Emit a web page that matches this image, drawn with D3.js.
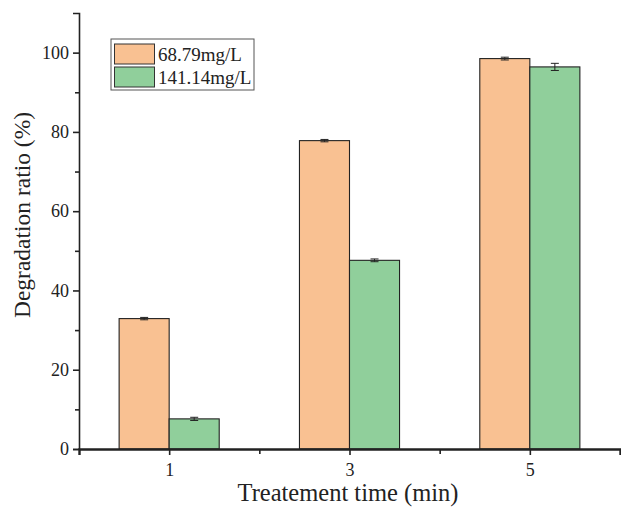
<!DOCTYPE html>
<html>
<head>
<meta charset="utf-8">
<script src="https://cdn.jsdelivr.net/npm/d3@7"></script>
<style>
  body { margin: 0; background: #fff; }
  text { font-family: "Liberation Serif", "Times New Roman", serif; fill: #222; }
</style>
</head>
<body>
<svg id="chart" width="621" height="508"></svg>
<script>
// data
let times = [1, 3, 5];
let seriesNames = ["68.79mg/L", "141.14mg/L"];
let seriesColors = ["#f9c192", "#90cf9b"];
let lowConc = [32.9, 77.8, 98.5];
let lowErr = [0.3, 0.3, 0.35];
let highConc = [7.6, 47.6, 96.4];
let highErr = [0.4, 0.35, 0.9];
let yTicks = [0, 20, 40, 60, 80, 100];

let margin = {top: 13, right: 1, bottom: 59, left: 79},
    width = 621 - margin.left - margin.right,
    height = 508 - margin.top - margin.bottom;

let svg = d3.select("#chart");
let g = svg.append("g").attr("transform", `translate(${margin.left}, ${margin.top})`);

let x = d3.scaleLinear().domain([0, 6]).range([0, width]);
let y = d3.scaleLinear().domain([0, 110]).range([height, 0]);

let barW = x(0.555) - x(0);

let series = [
  {name: seriesNames[0], values: lowConc, errs: lowErr, color: seriesColors[0], off: -1},
  {name: seriesNames[1], values: highConc, errs: highErr, color: seriesColors[1], off: 0}
];

let bars = [];
series.forEach(function (s) {
  times.forEach(function (t, i) {
    bars.push({t: t, v: s.values[i], e: s.errs[i], color: s.color, off: s.off});
  });
});

g.selectAll(".bar")
  .data(bars)
  .join("rect")
  .attr("class", "bar")
  .attr("x", d => x(d.t) + d.off * barW)
  .attr("y", d => y(d.v))
  .attr("width", barW)
  .attr("height", d => y(0) - y(d.v))
  .attr("fill", d => d.color)
  .attr("stroke", "#222")
  .attr("stroke-width", 1.1);

// error bars
let eb = g.selectAll(".err")
  .data(bars)
  .join("g")
  .attr("class", "err")
  .attr("stroke", "#222")
  .attr("stroke-width", 1);
eb.append("line")
  .attr("x1", d => x(d.t) + d.off * barW + barW / 2)
  .attr("x2", d => x(d.t) + d.off * barW + barW / 2)
  .attr("y1", d => y(d.v + d.e))
  .attr("y2", d => y(d.v - d.e));
eb.selectAll(".cap")
  .data(d => [d, Object.assign({}, d, {e: -d.e})])
  .join("line")
  .attr("x1", d => x(d.t) + d.off * barW + barW / 2 - 4)
  .attr("x2", d => x(d.t) + d.off * barW + barW / 2 + 4)
  .attr("y1", d => y(d.v + d.e))
  .attr("y2", d => y(d.v + d.e));

// y axis
let yAxis = g.append("g")
  .call(d3.axisLeft(y).tickValues(yTicks).tickSize(6).tickSizeOuter(6).tickPadding(4));
yAxis.selectAll("text").style("font-size", "18px");
g.append("g")
  .call(d3.axisLeft(y).tickValues([10, 30, 50, 70, 90]).tickSize(4).tickFormat(""))
  .select(".domain").remove();

// x axis
let xAxis = g.append("g")
  .attr("transform", `translate(0, ${height})`)
  .call(d3.axisBottom(x).tickValues(times).tickFormat(d3.format("d"))
    .tickSize(6).tickSizeOuter(6).tickPadding(8));
xAxis.selectAll("text").style("font-size", "18px");
g.append("g")
  .attr("transform", `translate(0, ${height})`)
  .call(d3.axisBottom(x).tickValues([2, 4]).tickSize(5).tickFormat(""))
  .select(".domain").remove();

svg.selectAll(".domain, .tick line").attr("stroke", "#222").attr("stroke-width", 1.6);
xAxis.select(".domain").attr("stroke-width", 2.4);

// axis titles
svg.append("text")
  .attr("transform", `translate(30, 215) rotate(-90)`)
  .attr("text-anchor", "middle")
  .style("font-size", "23.5px")
  .text("Degradation ratio (%)");

svg.append("text")
  .attr("x", 348)
  .attr("y", 501)
  .attr("text-anchor", "middle")
  .style("font-size", "24.5px")
  .text("Treatement time (min)");

// legend
let legend = svg.append("g").attr("transform", "translate(111, 39)");
legend.append("rect")
  .attr("width", 143).attr("height", 51)
  .attr("fill", "#fff").attr("stroke", "#555").attr("stroke-width", 1);
series.forEach(function (s, i) {
  legend.append("rect")
    .attr("x", 3.5).attr("y", 5 + i * 23)
    .attr("width", 40).attr("height", 20)
    .attr("fill", s.color).attr("stroke", "#333").attr("stroke-width", 1);
  legend.append("text")
    .attr("x", 47).attr("y", 22 + i * 23)
    .style("font-size", "19px")
    .text(s.name);
});
</script>
</body>
</html>
